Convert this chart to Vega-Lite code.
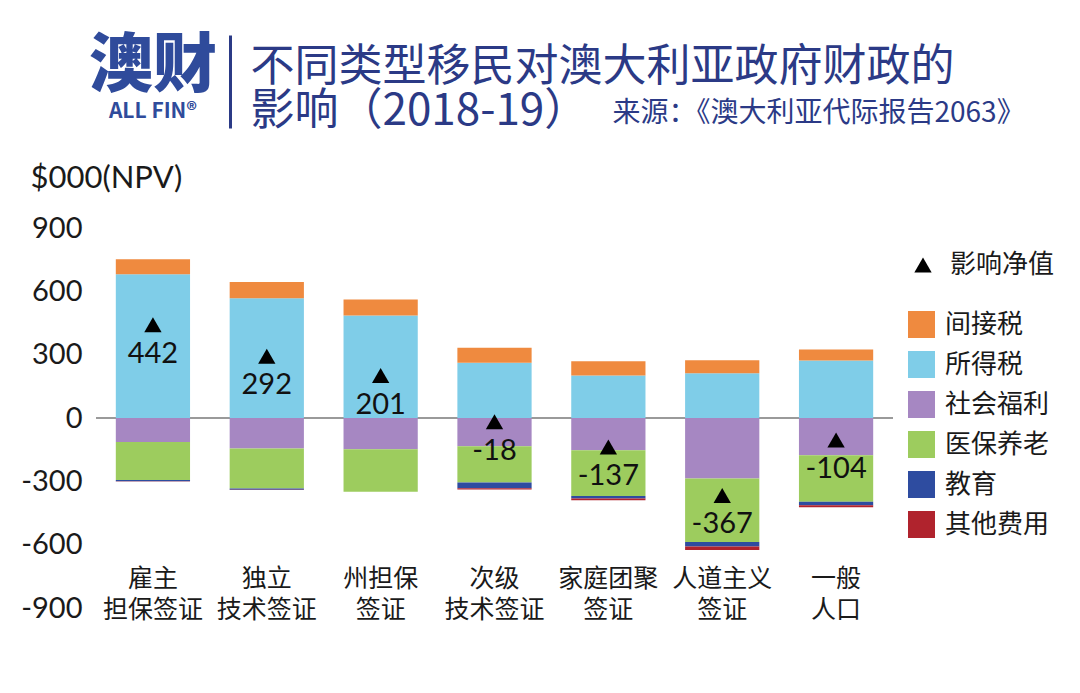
{
  "$schema": "https://vega.github.io/schema/vega-lite/v6.json",
  "autosize": "none",
  "width": 797,
  "height": 380,
  "padding": {"left": 96, "top": 228, "right": 187, "bottom": 85},
  "background": "#ffffff",
  "config": {"view": {"stroke": null}, "font": "Noto Sans CJK SC"},
  "title": {
    "text": "澳财",
    "subtitle": "ALL FIN®",
    "anchor": "start",
    "frame": "group",
    "align": "center",
    "dx": 57,
    "dy": 88,
    "offset": 0,
    "font": "Noto Sans CJK SC",
    "fontSize": 64,
    "fontWeight": 900,
    "color": "#2f4b9b",
    "subtitleFont": "Noto Sans CJK SC",
    "subtitleFontSize": 21,
    "subtitleFontWeight": "bold",
    "subtitleColor": "#2f4b9b",
    "subtitlePadding": 2
  },
  "datasets": {
    "parts": [
      {"cat": "雇主\n担保签证", "item": "所得税", "value": 681, "ord": 1},
      {"cat": "雇主\n担保签证", "item": "间接税", "value": 71, "ord": 2},
      {"cat": "雇主\n担保签证", "item": "社会福利", "value": -114, "ord": 3},
      {"cat": "雇主\n担保签证", "item": "医保养老", "value": -180, "ord": 4},
      {"cat": "雇主\n担保签证", "item": "教育", "value": -6, "ord": 5},
      {"cat": "雇主\n担保签证", "item": "其他费用", "value": -1, "ord": 6},
      {"cat": "独立\n技术签证", "item": "所得税", "value": 567, "ord": 1},
      {"cat": "独立\n技术签证", "item": "间接税", "value": 77, "ord": 2},
      {"cat": "独立\n技术签证", "item": "社会福利", "value": -144, "ord": 3},
      {"cat": "独立\n技术签证", "item": "医保养老", "value": -190, "ord": 4},
      {"cat": "独立\n技术签证", "item": "教育", "value": -6, "ord": 5},
      {"cat": "独立\n技术签证", "item": "其他费用", "value": -1, "ord": 6},
      {"cat": "州担保\n签证", "item": "所得税", "value": 486, "ord": 1},
      {"cat": "州担保\n签证", "item": "间接税", "value": 75, "ord": 2},
      {"cat": "州担保\n签证", "item": "社会福利", "value": -148, "ord": 3},
      {"cat": "州担保\n签证", "item": "医保养老", "value": -201, "ord": 4},
      {"cat": "州担保\n签证", "item": "教育", "value": 0, "ord": 5},
      {"cat": "州担保\n签证", "item": "其他费用", "value": 0, "ord": 6},
      {"cat": "次级\n技术签证", "item": "所得税", "value": 262, "ord": 1},
      {"cat": "次级\n技术签证", "item": "间接税", "value": 71, "ord": 2},
      {"cat": "次级\n技术签证", "item": "社会福利", "value": -134, "ord": 3},
      {"cat": "次级\n技术签证", "item": "医保养老", "value": -171, "ord": 4},
      {"cat": "次级\n技术签证", "item": "教育", "value": -28, "ord": 5},
      {"cat": "次级\n技术签证", "item": "其他费用", "value": -6, "ord": 6},
      {"cat": "家庭团聚\n签证", "item": "所得税", "value": 201, "ord": 1},
      {"cat": "家庭团聚\n签证", "item": "间接税", "value": 68, "ord": 2},
      {"cat": "家庭团聚\n签证", "item": "社会福利", "value": -153, "ord": 3},
      {"cat": "家庭团聚\n签证", "item": "医保养老", "value": -216, "ord": 4},
      {"cat": "家庭团聚\n签证", "item": "教育", "value": -12, "ord": 5},
      {"cat": "家庭团聚\n签证", "item": "其他费用", "value": -9, "ord": 6},
      {"cat": "人道主义\n签证", "item": "所得税", "value": 212, "ord": 1},
      {"cat": "人道主义\n签证", "item": "间接税", "value": 62, "ord": 2},
      {"cat": "人道主义\n签证", "item": "社会福利", "value": -287, "ord": 3},
      {"cat": "人道主义\n签证", "item": "医保养老", "value": -300, "ord": 4},
      {"cat": "人道主义\n签证", "item": "教育", "value": -22, "ord": 5},
      {"cat": "人道主义\n签证", "item": "其他费用", "value": -16, "ord": 6},
      {"cat": "一般\n人口", "item": "所得税", "value": 272, "ord": 1},
      {"cat": "一般\n人口", "item": "间接税", "value": 52, "ord": 2},
      {"cat": "一般\n人口", "item": "社会福利", "value": -176, "ord": 3},
      {"cat": "一般\n人口", "item": "医保养老", "value": -221, "ord": 4},
      {"cat": "一般\n人口", "item": "教育", "value": -16, "ord": 5},
      {"cat": "一般\n人口", "item": "其他费用", "value": -10, "ord": 6}
    ],
    "net": [
      {"cat": "雇主\n担保签证", "net": 442},
      {"cat": "独立\n技术签证", "net": 292},
      {"cat": "州担保\n签证", "net": 201},
      {"cat": "次级\n技术签证", "net": -18},
      {"cat": "家庭团聚\n签证", "net": -137},
      {"cat": "人道主义\n签证", "net": -367},
      {"cat": "一般\n人口", "net": -104}
    ]
  },
  "layer": [
    {
      "data": {"values": [{"v": 0}]},
      "mark": {"type": "rule", "color": "#9a9a9a", "strokeWidth": 2},
      "encoding": {"y": {"field": "v", "type": "quantitative", "axis": null}}
    },
    {
      "data": {"name": "parts"},
      "mark": {"type": "bar"},
      "encoding": {
        "x": {
          "field": "cat", "type": "nominal", "sort": null,
          "scale": {"paddingInner": 0.348, "paddingOuter": 0.174},
          "axis": {
            "orient": "bottom", "title": null, "domain": false, "ticks": false, "grid": false,
            "labelAngle": 0, "labelFont": "Noto Sans CJK SC", "labelFontSize": 25, "labelColor": "#1a1a1a",
            "labelBaseline": "middle", "labelPadding": -30, "labelLineHeight": 31,
            "labelExpr": "split(datum.value, '\\n')",
            "labelOverlap": false, "labelBound": false, "labelFlush": false, "labelLimit": 0
          }
        },
        "y": {
          "field": "value", "type": "quantitative", "stack": "zero",
          "scale": {"domain": [-900, 900], "nice": false, "zero": false},
          "axis": {
            "values": [-900, -600, -300, 0, 300, 600, 900],
            "labelExpr": "toString(datum.value)",
            "domain": false, "ticks": false, "grid": false,
            "labelFont": "Lato", "labelFontSize": 29, "labelColor": "#1a1a1a", "labelPadding": 14,
            "title": "$000(NPV)", "titleFont": "Lato", "titleFontSize": 31, "titleFontWeight": "normal",
            "titleColor": "#1a1a1a", "titleAngle": 0, "titleAlign": "left", "titleBaseline": "middle",
            "titleX": -66, "titleY": -50
          }
        },
        "color": {
          "field": "item", "type": "nominal",
          "scale": {
            "domain": ["间接税", "所得税", "社会福利", "医保养老", "教育", "其他费用"],
            "range": ["#ef8a3f", "#7fcde8", "#a687c2", "#9dcc5e", "#2e4ca0", "#b0232d"]
          },
          "legend": {
            "orient": "none", "legendX": 812, "legendY": 83, "title": null,
            "symbolType": "square", "symbolSize": 729, "symbolStrokeWidth": 0, "symbolOpacity": 1,
            "labelFont": "Noto Sans CJK SC", "labelFontSize": 26, "labelColor": "#1a1a1a",
            "labelOffset": 10, "rowPadding": 13, "padding": 0
          }
        },
        "order": {"field": "ord", "type": "quantitative"}
      }
    },
    {
      "data": {"name": "net"},
      "mark": {"type": "point", "filled": true, "color": "#000000", "size": 300, "opacity": 1},
      "encoding": {
        "x": {
          "field": "cat", "type": "nominal", "sort": null,
          "axis": {
            "orient": "top", "offset": 100, "domain": false, "labels": false, "grid": false,
            "ticks": true, "values": ["雇主\n担保签证"], "tickSize": 93, "tickWidth": 3,
            "tickColor": "#2b3a86", "tickOffset": 77,
            "title": ["不同类型移民对澳大利亚政府财政的", "影响（2018-19）"],
            "titleX": 154, "titleY": -61, "titleAlign": "left", "titleBaseline": "middle", "titleAngle": 0,
            "titleFont": "Noto Sans CJK SC", "titleFontSize": 44, "titleFontWeight": "normal",
            "titleColor": "#2b3a86", "titleLineHeight": 44
          }
        },
        "y": {
          "field": "net", "type": "quantitative",
          "axis": {
            "orient": "right", "domain": false, "labels": false, "ticks": false, "grid": false,
            "title": "来源：《澳大利亚代际报告2063》",
            "titleX": -281, "titleY": -115, "titleAlign": "left", "titleBaseline": "middle", "titleAngle": 0,
            "titleFont": "Noto Sans CJK SC", "titleFontSize": 28, "titleFontWeight": "normal", "titleColor": "#2b3a86"
          }
        },
        "shape": {
          "datum": "影响净值", "type": "nominal",
          "scale": {"range": ["triangle-up"]},
          "legend": {
            "orient": "none", "legendX": 814, "legendY": 24, "title": null,
            "symbolSize": 300, "symbolFillColor": "#000000", "symbolStrokeColor": "#000000", "symbolStrokeWidth": 0,
            "labelFont": "Noto Sans CJK SC", "labelFontSize": 26, "labelColor": "#1a1a1a", "labelOffset": 14, "padding": 0
          }
        }
      }
    },
    {
      "data": {"name": "net"},
      "mark": {"type": "text", "dy": 29, "fontSize": 29, "font": "Lato", "color": "#111111"},
      "encoding": {
        "x": {"field": "cat", "type": "nominal", "sort": null, "axis": null},
        "y": {"field": "net", "type": "quantitative", "axis": null},
        "text": {"field": "net", "type": "nominal"}
      }
    }
  ],
  "resolve": {"axis": {"x": "independent", "y": "independent"}}
}
